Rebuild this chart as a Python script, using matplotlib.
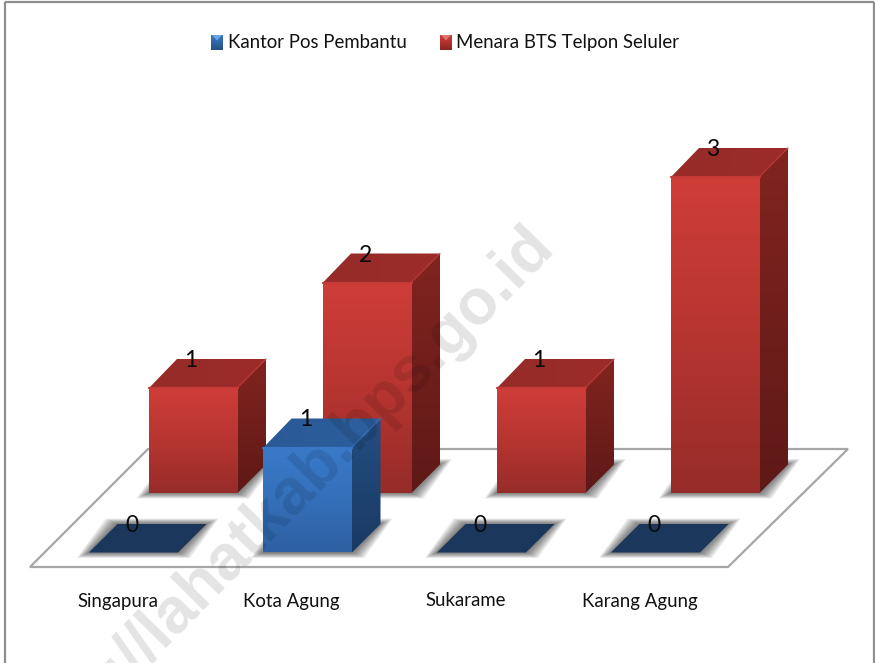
import numpy as np
import matplotlib
matplotlib.use("Agg")
import matplotlib.pyplot as plt
from matplotlib.patches import Polygon
from matplotlib.colors import LinearSegmentedColormap

categories = ["Singapura", "Kota Agung", "Sukarame", "Karang Agung"]
series_names = ["Kantor Pos Pembantu", "Menara BTS Telpon Seluler"]
kantor_pos = [0, 1, 0, 0]
menara_bts = [1, 2, 1, 3]
watermark = "http://lahatkab.bps.go.id"

FONT = ["Lato", "DejaVu Sans"]
W, H = 875, 663
fig = plt.figure(figsize=(W / 100, H / 100), dpi=100, facecolor="white")
ax = fig.add_axes([0, 0, 1, 1])
ax.set_axis_off()

# layout of the pseudo 3D scene, in pixels
X0, Y0 = 89.0, 552.5          # front-left of the first front-row bar
CAT_STEP = 174.0
ROW_DX, ROW_DY = 59.5, -59.5
BAR_W = 89.0
DEPTH = 28.5
UNIT = 105.5

RED = dict(front=["#cf3d39", "#b73531", "#962c29"], side=["#82241f", "#5e1917"],
           top=["#962b28", "#9c2c29"], rim="#c53a36")
BLUE = dict(front=["#3a7aca", "#3470ba", "#2e60a2"], side=["#244e82", "#1a3a63"],
            top=["#2a5996", "#2d5f9e"], rim="#3a78c6")
FLAT = "#1b375c"


def corners(cat, row, value):
    x = X0 + cat * CAT_STEP + row * ROW_DX
    y = Y0 + row * ROW_DY
    return x, y, y - value * UNIT


def grad(poly, colors, horizontal=False, z=3.0):
    pts = np.array(poly)
    patch = Polygon(poly, closed=True, fc="none", ec="none", zorder=z)
    ax.add_patch(patch)
    cmap = LinearSegmentedColormap.from_list("g", colors)
    g = np.linspace(0, 1, 128)
    g = g[None, :] if horizontal else g[:, None]
    im = ax.imshow(g, cmap=cmap, aspect="auto", zorder=z, interpolation="bilinear",
                   extent=(pts[:, 0].min(), pts[:, 0].max(), pts[:, 1].max(), pts[:, 1].min()))
    im.set_clip_path(patch)


def shadow(cat, row):
    x, y, _ = corners(cat, row, 0)
    for e in np.linspace(12, 0, 8):
        ey = e * 0.45
        fp = [(x - e, y + ey), (x + BAR_W + e, y + ey),
              (x + BAR_W + DEPTH + e, y - DEPTH - ey), (x + DEPTH - e, y - DEPTH - ey)]
        ax.add_patch(Polygon(fp, closed=True, fc="black", ec="none", alpha=0.085, zorder=2))


def bar(cat, row, value, pal):
    x, y, yt = corners(cat, row, value)
    if value == 0:
        ax.add_patch(Polygon([(x, y), (x + BAR_W, y), (x + BAR_W + DEPTH, y - DEPTH),
                              (x + DEPTH, y - DEPTH)], closed=True, fc=FLAT, ec="none", zorder=3))
        return
    grad([(x + BAR_W, y), (x + BAR_W + DEPTH, y - DEPTH), (x + BAR_W + DEPTH, yt - DEPTH),
          (x + BAR_W, yt)], pal["side"])
    grad([(x, yt + 1), (x + BAR_W, yt + 1), (x + BAR_W + DEPTH, yt - DEPTH), (x + DEPTH, yt - DEPTH)],
         pal["top"], horizontal=True)
    grad([(x, y), (x + BAR_W, y), (x + BAR_W, yt), (x, yt)], pal["front"])
    # soft bevel along the upper edges
    ax.plot([x + BAR_W, x + BAR_W + DEPTH], [yt, yt - DEPTH], color=pal["rim"], lw=1.2,
            alpha=0.55, zorder=3.2, solid_capstyle="round")
    ax.plot([x, x + BAR_W], [yt + 0.5, yt + 0.5], color=pal["rim"], lw=1.6, zorder=3.2,
            solid_capstyle="round")


# frame
for xs, ys in [((4.5, 4.5), (H, 2)), ((4.5, 873.5), (2, 2)), ((873.5, 873.5), (2, H))]:
    ax.plot(xs, ys, color="#8e8e8e", lw=1.6, zorder=1, solid_capstyle="butt")

# floor, derived from the outer category/row geometry
fx0, fy0 = X0 - 59, Y0 + 14.5
fx1 = X0 + 3 * CAT_STEP + BAR_W + 28
fdepth = 118
ax.add_patch(Polygon([(fx0, fy0), (fx1, fy0), (fx1 + fdepth + 2, fy0 - fdepth),
                      (fx0 + fdepth, fy0 - fdepth)], closed=True, fc="white",
                     ec="#a6a6a6", lw=1.6, zorder=1.5))

# shadows on the floor
for r in (1, 0):
    for c in range(len(categories)):
        shadow(c, r)

# back row then front row
for c, v in enumerate(menara_bts):
    bar(c, 1, v, RED)
for c, v in enumerate(kantor_pos):
    bar(c, 0, v, BLUE)

# data labels
for row, vals in ((1, menara_bts), (0, kantor_pos)):
    for c, v in enumerate(vals):
        x, y, yt = corners(c, row, v)
        ax.text(x + 42.5, yt - DEPTH + 1.5, str(v), ha="center", va="center",
                fontsize=16.5, family=FONT, color="#0a0a0a", zorder=6)

# category labels
for c, name in enumerate(categories):
    ax.text(117.5 + c * CAT_STEP, 601, name, ha="center", va="center",
            fontsize=13.4, family=FONT, color="#111111", zorder=6)

# legend
leg = [(211, 228, series_names[0], ["#3c7cc8", "#2e66ab", "#24507f"], "#6ea4e0"),
       (440, 456, series_names[1], ["#cf3f3a", "#b5322e", "#86241f"], "#e2726d")]
for mx, tx, name, cols, light in leg:
    grad([(mx, 34.5), (mx + 12, 34.5), (mx + 12, 50.5), (mx, 50.5)], cols, z=5)
    ax.add_patch(Polygon([(mx + 1, 35), (mx + 11, 35), (mx + 6, 40.5)], closed=True,
                         fc=light, ec="none", zorder=5.1))
    ax.text(tx, 42.5, name, ha="left", va="center", fontsize=13.4, family=FONT,
            color="#111111", zorder=6)

# watermark
ax.text(556, 247, watermark, rotation=45.5, rotation_mode="anchor", ha="right", va="baseline",
        fontsize=46, family=["Liberation Sans", "DejaVu Sans"], fontweight="bold",
        color="black", alpha=0.11, zorder=7, clip_on=True)

ax.set_xlim(0, W)
ax.set_ylim(H, 0)
fig.savefig("out.png", dpi=100)
